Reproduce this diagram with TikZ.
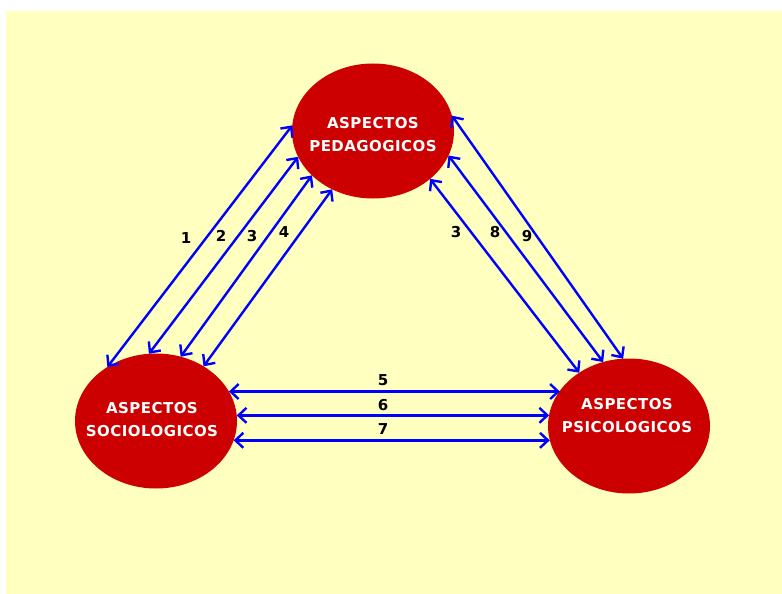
\documentclass[tikz,border=0pt]{standalone}
\usepackage{fontspec}
\setmainfont{DejaVu Sans}
\newfontfamily\tagfont[LetterSpace=3]{DejaVu Sans}
\usetikzlibrary{shapes.geometric,arrows.meta}
\definecolor{paper}{HTML}{FFFFC0}
\definecolor{blob}{HTML}{CC0000}
\definecolor{linkblue}{HTML}{0000FF}
\begin{document}
\begin{tikzpicture}[x=1pt,y=-1pt,
  aspect/.style={ellipse, fill=blob, draw=none, minimum width=162pt,
    minimum height=135pt, inner sep=0pt, outer sep=0pt},
  caption/.style={text=white, align=center, inner sep=0pt,
    font=\tagfont\bfseries\fontsize{15}{23}\selectfont},
  link/.style={draw=linkblue, line width=2.4pt,
    {Straight Barb[length=8pt,width=15pt]}-{Straight Barb[length=8pt,width=15pt]}},
  num/.style={font=\bfseries\fontsize{15}{15}\selectfont, text=black, inner sep=0pt}]
\useasboundingbox (0,0) rectangle (782,594);
\fill[white] (0,0) rectangle (782,594);
\fill[paper] (6,11) rectangle (782,594);

% the three aspects
\node[aspect] (ped) at (373,131) {};
\node[aspect] (soc) at (156,421) {};
\node[aspect] (psi) at (629,426) {};
\node[caption] (pedtxt) at (373,134.5) {ASPECTOS\\PEDAGOGICOS};
\node[caption] (soctxt) at (152,419.5) {ASPECTOS\\SOCIOLOGICOS};
\node[caption] (psitxt) at (627,415.5) {ASPECTOS\\PSICOLOGICOS};

% links between sociological and pedagogical aspects
\draw[link] (soc.132) -- (ped.176);
\draw[link] (soc.96)  -- (ped.199);
\draw[link] (soc.69)  -- (ped.216);
\draw[link] (soc.49)  -- (ped.235);

% links between pedagogical and psychological aspects
\draw[link] (ped.11)  -- (psi.95);
\draw[link] (ped.342) -- (psi.112);
\draw[link] (ped.320) -- (psi.133);

% links between sociological and psychological aspects
\draw[link] (soc.22)  -- (psi.153 |- soc.22);
\draw[link] (soc.4)   -- (psi.172 |- soc.4);
\draw[link] (soc.346) -- (psi.190 |- soc.346);

% link numbers
\node[num] (n1) at (186,238) {1};
\node[num] (n2) at (221,236) {2};
\node[num] (n3a) at (252,236) {3};
\node[num] (n4) at (284,232) {4};
\node[num] (n3b) at (456,232) {3};
\node[num] (n8) at (495,232) {8};
\node[num] (n9) at (527,236) {9};
\node[num] (n5) at (383,380) {5};
\node[num] (n6) at (383,405) {6};
\node[num] (n7) at (383,429) {7};
\end{tikzpicture}
\end{document}
